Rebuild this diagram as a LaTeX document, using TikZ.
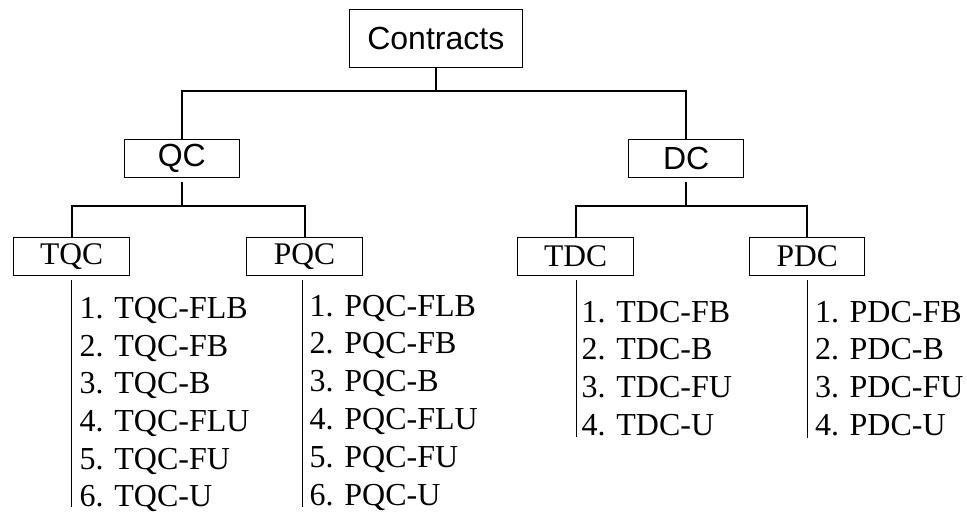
\documentclass[tikz,border=0pt]{standalone}
\usepackage{fontspec}
\setmainfont{Liberation Serif}
\setsansfont{Liberation Sans}
\begin{document}
\begin{tikzpicture}[x=1pt,y=-1pt,
  box/.style={draw, line width=1pt, inner sep=0pt,
    minimum height=38.5pt, minimum width=115.5pt},
  head/.style={box, font=\sffamily\fontsize{32}{38}\selectfont},
  sub/.style={box, font=\rmfamily\fontsize{31.5}{37}\selectfont},
  link/.style={line width=2pt},
  rail/.style={line width=1.3pt},
  item/.style={anchor=base west, inner sep=0pt,
    font=\rmfamily\fontsize{32}{38}\selectfont}]
\useasboundingbox (0,0) rectangle (967,516);

% boxes of the hierarchy
\node[head, minimum width=173pt, minimum height=58pt] (root) at (435.8,38.3) {Contracts};
\node[head] (qc) at (181.8,158.5) {QC};
\node[head] (dc) at (686.2,158.5) {DC};
\node[sub] (tqc) at (71.7,256.7) {TQC};
\node[sub] (pqc) at (304.5,256.7) {PQC};
\node[sub] (tdc) at (575.7,256.7) {TDC};
\node[sub] (pdc) at (807.2,256.7) {PDC};

% heights of the horizontal bars and ends of the list rails
\coordinate (bar0) at (0,91);
\coordinate (bar1) at (0,206);
\coordinate (endq) at (0,506.7);
\coordinate (endt) at (0,436.5);
\coordinate (endp) at (0,438);

% tree connectors
\draw[link] (root.south) -- (root.south |- bar0);
\draw[link] (qc.north) -- (qc.north |- bar0) -- (dc.north |- bar0) -- (dc.north);
\draw[link] ([yshift=-4pt]qc.south) -- (qc.south |- bar1);
\draw[link] (tqc.north) -- (tqc.north |- bar1) -- (pqc.north |- bar1) -- (pqc.north);
\draw[link] ([yshift=-4pt]dc.south) -- (dc.south |- bar1);
\draw[link] (tdc.north) -- (tdc.north |- bar1) -- (pdc.north |- bar1) -- (pdc.north);

% rails beside the lists
\draw[rail] ([yshift=-4pt]tqc.south) -- (tqc.south |- endq);
\draw[rail] ([xshift=-2pt,yshift=-4pt]pqc.south) -- ([xshift=-2pt]pqc.south |- endq);
\draw[rail] ([xshift=1pt,yshift=-4pt]tdc.south) -- ([xshift=1pt]tdc.south |- endt);
\draw[rail] ([yshift=-4pt]pdc.south) -- (pdc.south |- endp);

% contract lists
\foreach \t [count=\i] in {TQC-FLB, TQC-FB, TQC-B, TQC-FLU, TQC-FU, TQC-U}
  \node[item] (tq\i) at (79.5, {318.3+37.7*(\i-1)}) {\i. \t};
\foreach \t [count=\i] in {PQC-FLB, PQC-FB, PQC-B, PQC-FLU, PQC-FU, PQC-U}
  \node[item] (pq\i) at (309.5, {316+37.8*(\i-1)}) {\i. \t};
\foreach \t [count=\i] in {TDC-FB, TDC-B, TDC-FU, TDC-U}
  \node[item] (td\i) at (581.5, {322+37.7*(\i-1)}) {\i. \t};
\foreach \t [count=\i] in {PDC-FB, PDC-B, PDC-FU, PDC-U}
  \node[item] (pd\i) at (814.8, {322+37.8*(\i-1)}) {\i. \t};
\end{tikzpicture}
\end{document}
